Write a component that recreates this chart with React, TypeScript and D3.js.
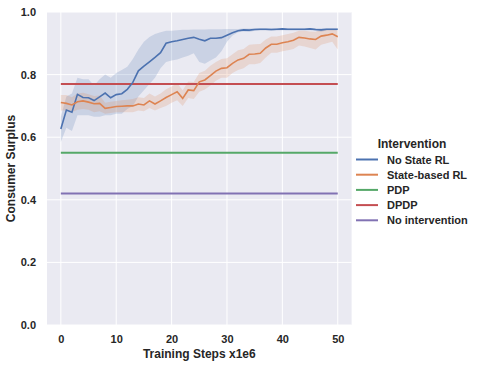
import React, { useEffect, useRef } from 'react';
import * as d3 from 'd3';

// training steps (x1e6)
const steps = d3.range(0, 51);

const noStateMean = [
  0.626, 0.687, 0.680, 0.737, 0.727, 0.726, 0.717, 0.729, 0.741, 0.726,
  0.736, 0.739, 0.753, 0.775, 0.812, 0.827, 0.841, 0.855, 0.870, 0.900,
  0.905, 0.908, 0.912, 0.916, 0.919, 0.913, 0.908, 0.916, 0.916, 0.918,
  0.926, 0.934, 0.940, 0.943, 0.942, 0.944, 0.945, 0.945, 0.944, 0.945,
  0.946, 0.945, 0.945, 0.945, 0.945, 0.946, 0.944, 0.943, 0.945, 0.945, 0.945,
];
const noStateLo = [
  0.585, 0.630, 0.620, 0.670, 0.670, 0.670, 0.665, 0.665, 0.670, 0.670,
  0.675, 0.675, 0.690, 0.700, 0.730, 0.750, 0.770, 0.790, 0.820, 0.840,
  0.845, 0.848, 0.855, 0.860, 0.868, 0.840, 0.835, 0.845, 0.855, 0.875,
  0.905, 0.925, 0.935, 0.938, 0.936, 0.940, 0.941, 0.941, 0.940, 0.941,
  0.942, 0.941, 0.941, 0.941, 0.941, 0.942, 0.939, 0.937, 0.941, 0.941, 0.941,
];
const noStateHi = [
  0.665, 0.730, 0.740, 0.790, 0.785, 0.785, 0.765, 0.785, 0.800, 0.790,
  0.805, 0.815, 0.825, 0.850, 0.880, 0.905, 0.920, 0.930, 0.935, 0.940,
  0.940, 0.942, 0.943, 0.943, 0.944, 0.944, 0.944, 0.945, 0.945, 0.945,
  0.946, 0.946, 0.946, 0.947, 0.947, 0.948, 0.948, 0.948, 0.948, 0.948,
  0.949, 0.948, 0.948, 0.948, 0.948, 0.949, 0.948, 0.948, 0.948, 0.948, 0.948,
];

const stateMean = [
  0.711, 0.708, 0.703, 0.713, 0.716, 0.712, 0.707, 0.708, 0.692, 0.695,
  0.698, 0.699, 0.700, 0.700, 0.706, 0.703, 0.716, 0.706, 0.716, 0.727,
  0.736, 0.745, 0.724, 0.751, 0.749, 0.777, 0.783, 0.797, 0.811, 0.820,
  0.822, 0.836, 0.847, 0.852, 0.865, 0.866, 0.868, 0.885, 0.897, 0.897,
  0.902, 0.905, 0.910, 0.919, 0.917, 0.914, 0.912, 0.923, 0.926, 0.930, 0.921,
];
const stateLo = [
  0.685, 0.685, 0.680, 0.688, 0.690, 0.688, 0.680, 0.683, 0.675, 0.677,
  0.680, 0.680, 0.680, 0.680, 0.685, 0.683, 0.693, 0.685, 0.693, 0.700,
  0.710, 0.718, 0.700, 0.725, 0.722, 0.745, 0.752, 0.765, 0.780, 0.790,
  0.790, 0.805, 0.815, 0.820, 0.833, 0.833, 0.837, 0.855, 0.870, 0.870,
  0.875, 0.878, 0.882, 0.893, 0.890, 0.885, 0.880, 0.895, 0.900, 0.905, 0.880,
];
const stateHi = [
  0.735, 0.735, 0.728, 0.740, 0.742, 0.737, 0.732, 0.733, 0.710, 0.713,
  0.716, 0.718, 0.720, 0.722, 0.728, 0.725, 0.740, 0.730, 0.740, 0.753,
  0.762, 0.772, 0.750, 0.778, 0.776, 0.805, 0.812, 0.828, 0.840, 0.850,
  0.852, 0.865, 0.878, 0.882, 0.895, 0.897, 0.898, 0.912, 0.922, 0.922,
  0.926, 0.930, 0.934, 0.940, 0.940, 0.938, 0.937, 0.943, 0.945, 0.946, 0.940,
];

// constant baselines
const pdpValue = 0.55;
const dpdpValue = 0.77;
const noInterventionValue = 0.42;

const legendLabels = ['No State RL', 'State-based RL', 'PDP', 'DPDP', 'No intervention'];
const colors = ['#4c72b0', '#dd8452', '#55a868', '#c44e52', '#8172b3'];

const xTicks = [0, 10, 20, 30, 40, 50];
const yTicks = [0, 0.2, 0.4, 0.6, 0.8, 1.0];

const App = () => {
  const ref = useRef<SVGSVGElement>(null);

  useEffect(() => {
    document.body.style.margin = '0';
    const svg = d3.select(ref.current);
    svg.selectAll('*').remove();

    const left = 47, right = 351.6, top = 12, bottom = 325;
    const font = '"Liberation Sans", Arial, sans-serif';

    const x = d3.scaleLinear().domain([-2.5, 52.5]).range([left, right]);
    const y = d3.scaleLinear().domain([0, 1]).range([bottom, top]);

    svg.append('rect')
      .attr('x', left).attr('y', top)
      .attr('width', right - left).attr('height', bottom - top)
      .attr('fill', '#eaeaf2');

    // grid
    svg.append('g').selectAll('line').data(xTicks).join('line')
      .attr('x1', d => x(d)).attr('x2', d => x(d))
      .attr('y1', top).attr('y2', bottom)
      .attr('stroke', '#fff').attr('stroke-width', 1);
    svg.append('g').selectAll('line').data(yTicks).join('line')
      .attr('x1', left).attr('x2', right)
      .attr('y1', d => y(d)).attr('y2', d => y(d))
      .attr('stroke', '#fff').attr('stroke-width', 1);

    // axes (labels only, seaborn darkgrid style)
    const xAxis = svg.append('g')
      .attr('transform', `translate(0, ${bottom})`)
      .call(d3.axisBottom(x).tickValues(xTicks).tickSize(0).tickPadding(10).tickFormat(d3.format('d')));
    const yAxis = svg.append('g')
      .attr('transform', `translate(${left}, 0)`)
      .call(d3.axisLeft(y).tickValues(yTicks).tickSize(0).tickPadding(11).tickFormat(d3.format('.1f')));
    [xAxis, yAxis].forEach(a => {
      a.select('.domain').remove();
      a.selectAll('text')
        .attr('font-family', font).attr('font-size', 11).attr('font-weight', 'bold')
        .attr('fill', '#262626');
    });

    // confidence bands
    const band = (lo: number[], hi: number[]) => d3.area<number>()
      .x(d => x(d)).y0(d => y(lo[d])).y1(d => y(hi[d]));
    const line = (vals: number[]) => d3.line<number>()
      .x(d => x(d)).y(d => y(vals[d]));

    svg.append('path').attr('d', band(noStateLo, noStateHi)(steps))
      .attr('fill', colors[0]).attr('fill-opacity', 0.2);
    svg.append('path').attr('d', band(stateLo, stateHi)(steps))
      .attr('fill', colors[1]).attr('fill-opacity', 0.2);

    // horizontal baselines
    [[pdpValue, colors[2]], [dpdpValue, colors[3]], [noInterventionValue, colors[4]]].forEach(([v, c]) => {
      svg.append('line')
        .attr('x1', x(steps[0])).attr('x2', x(steps[steps.length - 1]))
        .attr('y1', y(v as number)).attr('y2', y(v as number))
        .attr('stroke', c as string).attr('stroke-width', 2);
    });

    svg.append('path').attr('d', line(noStateMean)(steps))
      .attr('fill', 'none').attr('stroke', colors[0]).attr('stroke-width', 1.6);
    svg.append('path').attr('d', line(stateMean)(steps))
      .attr('fill', 'none').attr('stroke', colors[1]).attr('stroke-width', 1.6);

    // axis titles
    svg.append('text')
      .attr('x', (left + right) / 2).attr('y', 358)
      .attr('text-anchor', 'middle')
      .attr('font-family', font).attr('font-size', 12).attr('font-weight', 'bold')
      .attr('fill', '#262626')
      .text('Training Steps x1e6');
    svg.append('text')
      .attr('transform', `translate(15, ${(top + bottom) / 2}) rotate(-90)`)
      .attr('text-anchor', 'middle')
      .attr('font-family', font).attr('font-size', 12).attr('font-weight', 'bold')
      .attr('fill', '#262626')
      .text('Consumer Surplus');

    // legend
    const lg = svg.append('g').attr('transform', 'translate(356, 0)');
    lg.append('text')
      .attr('x', 56).attr('y', 148)
      .attr('text-anchor', 'middle')
      .attr('font-family', font).attr('font-size', 12).attr('font-weight', 'bold')
      .attr('fill', '#262626')
      .text('Intervention');
    const rows = lg.selectAll('g.row').data(legendLabels).join('g')
      .attr('class', 'row')
      .attr('transform', (_, i) => `translate(0, ${159.5 + i * 15.2})`);
    rows.append('line')
      .attr('x1', 0).attr('x2', 22).attr('y1', 0).attr('y2', 0)
      .attr('stroke', (_, i) => colors[i]).attr('stroke-width', 2);
    rows.append('text')
      .attr('x', 31).attr('y', 4)
      .attr('font-family', font).attr('font-size', 11).attr('font-weight', 'bold')
      .attr('fill', '#262626')
      .text(d => d);
  }, []);

  return <svg ref={ref} width={477} height={366} style={{ display: 'block', background: '#fff' }} />;
};

export default App;
